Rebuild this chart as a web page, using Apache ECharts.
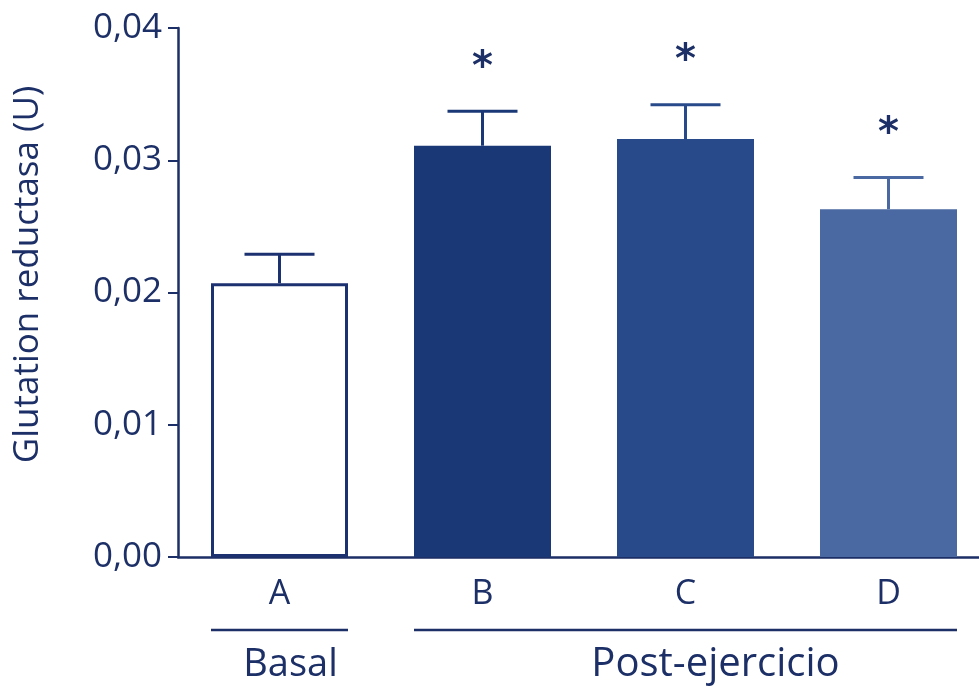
<!DOCTYPE html>
<html><head><meta charset="utf-8">
<script src="https://cdn.jsdelivr.net/npm/echarts@6/dist/echarts.min.js"></script>
<style>html,body{margin:0;padding:0;background:#fff}#c{width:979px;height:689px}</style>
</head><body><div id="c"></div>
<script>
const categories = ['A', 'B', 'C', 'D'];
const means = [0.0207, 0.0311, 0.0316, 0.0263];
const errTops = [0.0229, 0.0337, 0.0342, 0.0287];
const signif = ['', '*', '*', '*'];
const yTicks = [0, 0.01, 0.02, 0.03, 0.04];
const groups = [{name: 'Basal', from: 0, to: 0}, {name: 'Post-ejercicio', from: 1, to: 3}];

const NAVY = '#1c2f66';
const fills = ['#ffffff', '#1b3876', '#284a8a', '#4a68a1'];
const strokes = ['#1c3170', '#1b3876', '#284a8a', '#4a68a1'];
const FONT = 'Open Sans';
const BAR_W = 137;

const chart = echarts.init(document.getElementById('c'));
const option = {
  animation: false,
  grid: {left: 178, right: -11, top: 28, bottom: 132, outerBoundsMode: 'none', containLabel: false},
  xAxis: {
    type: 'category', data: categories,
    axisLine: {lineStyle: {color: NAVY, width: 2.5}},
    axisTick: {alignWithLabel: true, length: 9, lineStyle: {color: NAVY, width: 2}},
    axisLabel: {color: NAVY, fontSize: 34, fontFamily: FONT, margin: 20}
  },
  yAxis: {
    type: 'value', min: 0, max: 0.04, interval: 0.01,
    name: 'Glutation reductasa (U)', nameLocation: 'middle', nameGap: 132,
    nameTextStyle: {color: NAVY, fontSize: 35, fontFamily: FONT, padding: [0, 0, 0, 36]},
    axisLine: {show: true, lineStyle: {color: NAVY, width: 2.5}},
    axisTick: {show: true, length: 10, lineStyle: {color: NAVY, width: 2}},
    splitLine: {show: false},
    axisLabel: {color: NAVY, fontSize: 35, fontFamily: FONT, margin: 16,
      formatter: v => v.toFixed(2).replace('.', ',')}
  },
  series: [
    {
      type: 'bar', barWidth: BAR_W, z: 2,
      data: means.map((v, i) => ({value: v, itemStyle: {color: fills[i], borderColor: strokes[i], borderWidth: i === 0 ? 3 : 0}}))
    },
    {
      type: 'custom', z: 1,
      data: means.map((v, i) => [i, v, errTops[i]]),
      renderItem: (params, api) => {
        const i = api.value(0);
        const p0 = api.coord([i, api.value(1)]);
        const p1 = api.coord([i, api.value(2)]);
        const cap = 35;
        const st = {stroke: strokes[i], lineWidth: 3};
        return {type: 'group', children: [
          {type: 'line', shape: {x1: p0[0], y1: p0[1], x2: p1[0], y2: p1[1]}, style: st},
          {type: 'line', shape: {x1: p1[0] - cap, y1: p1[1], x2: p1[0] + cap, y2: p1[1]}, style: st}
        ]};
      }
    },
    {
      type: 'custom', z: 3,
      data: errTops.map((v, i) => [i, v]),
      renderItem: (params, api) => {
        const i = api.value(0);
        const p = api.coord([i, api.value(1)]);
        return {type: 'text', x: p[0], y: p[1] - 43, style: {text: signif[i], fill: NAVY, fontSize: 40, fontWeight: 'bold', fontFamily: 'DejaVu Sans', align: 'center', verticalAlign: 'middle'}};
      }
    }
  ]
};
chart.setOption(option);

function drawGroups() {
  const els = [];
  const textShift = [11, 30];
  const sizes = [38, 40];
  groups.forEach((g, k) => {
    const x1 = chart.convertToPixel({xAxisIndex: 0}, categories[g.from]) - BAR_W / 2;
    const x2 = chart.convertToPixel({xAxisIndex: 0}, categories[g.to]) + BAR_W / 2;
    els.push({type: 'line', shape: {x1: x1, y1: 630, x2: x2, y2: 630}, style: {stroke: NAVY, lineWidth: 2.5}});
    els.push({type: 'text', x: (x1 + x2) / 2 + textShift[k], y: 665, style: {text: g.name, fill: NAVY, fontSize: sizes[k], fontFamily: FONT, align: 'center', verticalAlign: 'middle'}});
  });
  chart.setOption({graphic: els});
}
drawGroups();
</script></body></html>
